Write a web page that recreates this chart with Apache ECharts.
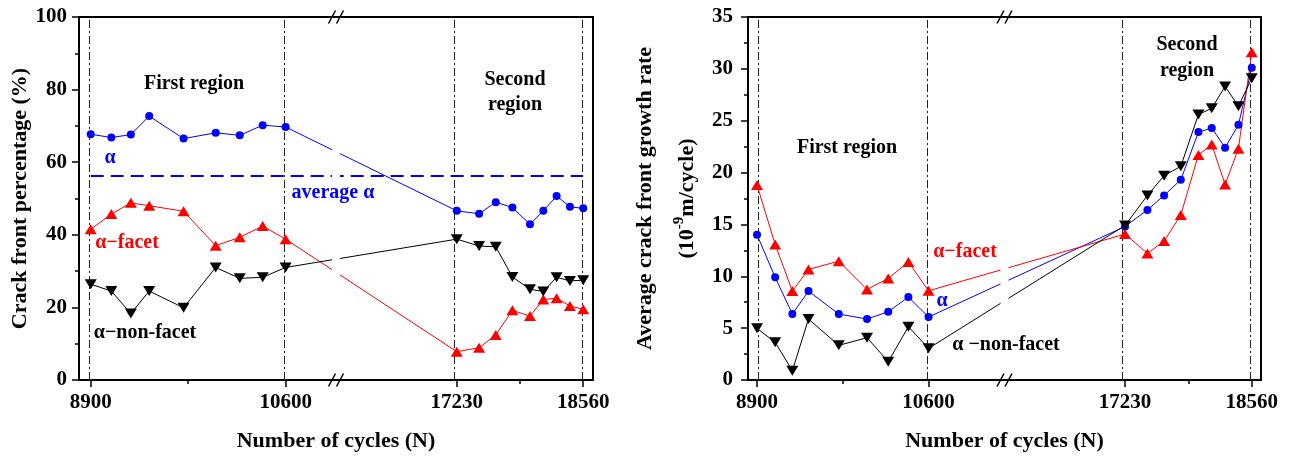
<!DOCTYPE html>
<html>
<head>
<meta charset="utf-8">
<script src="https://cdn.jsdelivr.net/npm/echarts@6/dist/echarts.min.js"></script>
<style>
html,body{margin:0;padding:0;background:#fff;}
#c{width:1291px;height:461px;}
</style>
</head>
<body>
<div id="c"></div>
<script>
// ---------- data ----------
const cyclesFirst = [8900, 9080, 9250, 9410, 9710, 9990, 10200, 10400, 10600];
const cyclesSecond = [17230, 17465, 17640, 17815, 18000, 18140, 18280, 18420, 18560];
const tickCycles = [8900, 10600, 17230, 18560];
const tickLabels = ['8900', '10600', '17230', '18560'];
const minorTickCycles = [9750, 17895];
const regionLines = [8900, 10600, 17230, 18560];

// left panel: crack front percentage (%)
const alphaPct = [67.7, 66.8, 67.6, 72.7, 66.5, 68.1, 67.4, 70.2, 69.7, 46.6, 45.8, 49.0, 47.5, 42.9, 46.6, 50.7, 47.7, 47.3];
const facetPct = [41.5, 45.7, 48.8, 48.0, 46.5, 37.0, 39.3, 42.4, 38.8, 7.8, 8.9, 12.4, 19.2, 17.6, 22.2, 22.5, 20.4, 19.5];
const nonFacetPct = [26.4, 24.5, 18.3, 24.5, 19.9, 31.0, 28.0, 28.3, 31.0, 38.8, 36.9, 36.7, 28.4, 25.0, 24.4, 28.3, 27.3, 27.5];
const averageAlpha = 56.4;

// right panel: average crack front growth rate (1e-9 m/cycle)
const alphaRate = [14.0, 9.9, 6.36, 8.57, 6.36, 5.88, 6.58, 8.0, 6.07, 14.8, 16.4, 17.8, 19.3, 23.9, 24.3, 22.4, 24.6, 30.1];
const facetRate = [18.8, 13.07, 8.57, 10.66, 11.46, 8.73, 9.79, 11.37, 8.6, 14.07, 12.2, 13.4, 15.9, 21.7, 22.7, 18.85, 22.3, 31.6];
const nonFacetRate = [4.98, 3.63, 0.9, 5.88, 3.34, 4.08, 1.77, 5.14, 3.05, 14.9, 17.8, 19.7, 20.6, 25.6, 26.2, 28.3, 26.4, 29.1];

// ---------- broken-axis scale (cycles -> axis fraction) ----------
const leftAnchors = [0.0228, 0.402, 0.735, 0.981];
const rightAnchors = [0.0176, 0.352, 0.735, 0.982];
function makeScale(anchors) {
  return function (c) {
    let i = 0;
    if (c >= tickCycles[2]) i = 2; else if (c >= tickCycles[1]) i = 1;
    const t = (c - tickCycles[i]) / (tickCycles[i + 1] - tickCycles[i]);
    return anchors[i] + t * (anchors[i + 1] - anchors[i]);
  };
}
const sL = makeScale(leftAnchors);
const sR = makeScale(rightAnchors);
const cycles = cyclesFirst.concat(cyclesSecond);

// ---------- layout ----------
const FONT = 'Liberation Serif';
const G0 = {left: 79, top: 17, width: 514, height: 363};
const G1 = {left: 748, top: 17, width: 513, height: 363};

function xAxes(grid, scale) {
  const ticks = tickCycles.map(scale);
  return [{
    type: 'value', gridIndex: grid, min: 0, max: 1, position: 'bottom',
    name: 'Number of cycles (N)', nameLocation: 'middle', nameGap: 50,
    nameTextStyle: {fontFamily: FONT, fontWeight: 'bold', fontSize: 22, color: '#000'},
    splitLine: {show: false},
    axisLine: {lineStyle: {color: '#000', width: 2}},
    axisTick: {customValues: ticks, length: 7, lineStyle: {color: '#000', width: 1.5}},
    axisLabel: {customValues: ticks, margin: 12, fontFamily: FONT, fontWeight: 'bold', fontSize: 21, color: '#000',
      formatter: function (v) {
        let best = 0;
        ticks.forEach((t, i) => { if (Math.abs(t - v) < Math.abs(ticks[best] - v)) best = i; });
        return tickLabels[best];
      }}
  }, {
    type: 'value', gridIndex: grid, min: 0, max: 1, position: 'bottom',
    splitLine: {show: false}, axisLine: {show: false},
    axisTick: {customValues: minorTickCycles.map(scale), length: 4, lineStyle: {color: '#000', width: 1.5}},
    axisLabel: {show: false}
  }];
}

function lineSeries(name, xi, yi, scale, vals, color, symbol, size, rotate, extra) {
  return Object.assign({
    name: name, type: 'line', xAxisIndex: xi, yAxisIndex: yi,
    data: cycles.map((c, i) => [scale(c), vals[i]]),
    symbol: symbol, symbolSize: size, symbolRotate: rotate || 0,
    itemStyle: {color: color}, lineStyle: {color: color, width: 1},
    z: 5, animation: false
  }, extra || {});
}

function regionMark(scale) {
  return {
    silent: true, symbol: 'none', label: {show: false},
    lineStyle: {color: '#222', width: 1, type: [8, 3, 2, 3]},
    data: regionLines.map(c => ({xAxis: scale(c)})),
    animation: false
  };
}

const yLabel = {fontFamily: FONT, fontWeight: 'bold', fontSize: 21, color: '#000'};
const nameStyle = {fontFamily: FONT, fontWeight: 'bold', fontSize: 22, color: '#000'};

const option = {
  animation: false,
  backgroundColor: '#fff',
  grid: [
    Object.assign({show: true, borderColor: '#000', borderWidth: 2}, G0),
    Object.assign({show: true, borderColor: '#000', borderWidth: 2}, G1)
  ],
  xAxis: xAxes(0, sL).concat(xAxes(1, sR)),
  yAxis: [{
    type: 'value', gridIndex: 0, min: 0, max: 100, interval: 20,
    name: 'Crack front percentage (%)', nameLocation: 'middle', nameGap: 48, nameTextStyle: nameStyle,
    splitLine: {show: false},
    axisLine: {show: true, lineStyle: {color: '#000', width: 2}},
    axisTick: {length: 7, lineStyle: {color: '#000', width: 1.5}},
    minorTick: {show: true, splitNumber: 2, length: 4, lineStyle: {color: '#000', width: 1.5}},
    axisLabel: Object.assign({margin: 12}, yLabel)
  }, {
    type: 'value', gridIndex: 1, min: 0, max: 35, interval: 5,
    name: 'Average crack front growth rate', nameLocation: 'middle', nameGap: 92, nameTextStyle: nameStyle,
    splitLine: {show: false},
    axisLine: {show: true, lineStyle: {color: '#000', width: 2}},
    axisTick: {length: 7, lineStyle: {color: '#000', width: 1.5}},
    minorTick: {show: true, splitNumber: 2, length: 4, lineStyle: {color: '#000', width: 1.5}},
    axisLabel: Object.assign({margin: 15}, yLabel)
  }, {
    type: 'value', gridIndex: 1, min: 0, max: 35, interval: 5, position: 'left',
    name: '{b|(10}{s|-9}{b|m/cycle)}', nameLocation: 'middle', nameGap: 50,
    nameTextStyle: {rich: {
      b: {fontFamily: FONT, fontWeight: 'bold', fontSize: 22, color: '#000', lineHeight: 26, verticalAlign: 'bottom'},
      s: {fontFamily: FONT, fontWeight: 'bold', fontSize: 15, color: '#000', lineHeight: 26, verticalAlign: 'top'}
    }},
    splitLine: {show: false}, axisLine: {show: false}, axisTick: {show: false}, axisLabel: {show: false}
  }],
  series: [
    lineSeries('α', 0, 0, sL, alphaPct, '#0000ff', 'circle', 8, 0, {
      markLine: {
        silent: true, symbol: 'none', label: {show: false},
        lineStyle: {color: '#0000ff', width: 2, type: [13, 7]},
        data: [[{coord: [sL(regionLines[0]), averageAlpha]}, {coord: [sL(regionLines[3]), averageAlpha]}]],
        animation: false
      }
    }),
    lineSeries('α−facet', 0, 0, sL, facetPct, '#ff0000', 'triangle', [12, 10], 0),
    lineSeries('α−non-facet', 0, 0, sL, nonFacetPct, '#000000', 'triangle', [12, 10], 180, {markLine: regionMark(sL)}),
    lineSeries('α', 2, 1, sR, alphaRate, '#0000ff', 'circle', 8, 0),
    lineSeries('α−facet', 2, 1, sR, facetRate, '#ff0000', 'triangle', [12, 10], 0),
    lineSeries('α−non-facet', 2, 1, sR, nonFacetRate, '#000000', 'triangle', [12, 10], 180, {markLine: regionMark(sR)})
  ]
};

const chart = echarts.init(document.getElementById('c'), null, {renderer: 'canvas'});
chart.setOption(option);

// ---------- decorations: axis breaks and annotations ----------
function txt(x, y, s, color, size) {
  return {type: 'text', x: x, y: y, z: 120, silent: true,
    style: {text: s, fill: color, font: 'bold ' + (size || 20) + 'px "' + FONT + '"', align: 'center', verticalAlign: 'middle'}};
}
function breakMarks(g) {
  const bx = g.left + g.width * 0.5;
  const top = g.top, bot = g.top + g.height;
  const els = [{type: 'rect', z: 100, silent: true, shape: {x: bx - 4, y: top + 2, width: 8, height: g.height - 4}, style: {fill: '#fff'}}];
  [top, bot].forEach(y => {
    [-4, 4].forEach(dx => {
      els.push({type: 'line', z: 110, silent: true,
        shape: {x1: bx + dx - 3.5, y1: y + 6.5, x2: bx + dx + 3.5, y2: y - 6.5},
        style: {stroke: '#000', lineWidth: 1.5}});
    });
  });
  return els;
}
const graphics = [].concat(breakMarks(G0), breakMarks(G1), [
  txt(194, 84, 'First region', '#000'),
  txt(515, 80, 'Second', '#000'),
  txt(515, 105, 'region', '#000'),
  txt(110, 158, 'α', '#0000ff'),
  txt(333, 193, 'average α', '#0000ff'),
  txt(127, 243, 'α−facet', '#ff0000'),
  txt(145, 333, 'α−non-facet', '#000'),
  txt(847, 148, 'First region', '#000'),
  txt(1187, 45, 'Second', '#000'),
  txt(1187, 71, 'region', '#000'),
  txt(965, 252, 'α−facet', '#ff0000'),
  txt(942, 301, 'α', '#0000ff'),
  txt(1006, 345, 'α −non-facet', '#000')
]);
chart.setOption({graphic: graphics});
</script>
</body>
</html>
